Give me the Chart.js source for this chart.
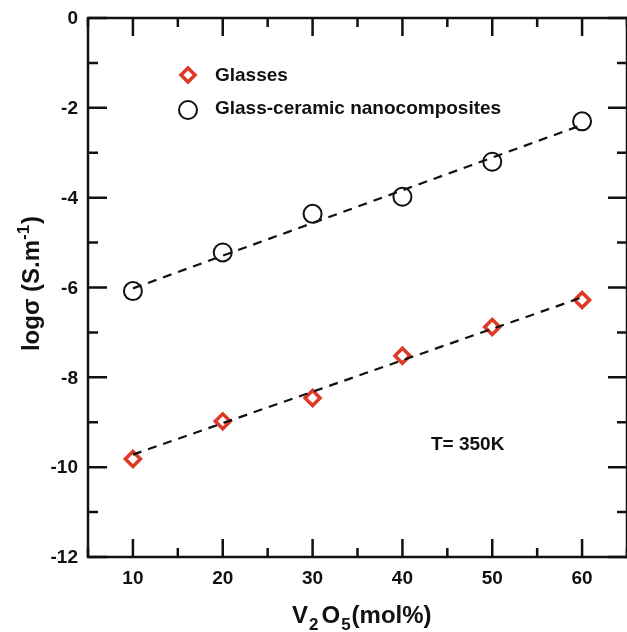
<!DOCTYPE html>
<html>
<head>
<meta charset="utf-8">
<script src="https://cdn.jsdelivr.net/npm/chart.js@4"></script>
<style>
  html, body { margin: 0; padding: 0; background: #fff; overflow: hidden; }
  canvas { display: block; }
</style>
</head>
<body>
<canvas id="grafico" width="627" height="632"></canvas>
<script>
const composicao = [10, 20, 30, 40, 50, 60];
const vidros = [-9.82, -8.98, -8.46, -7.52, -6.88, -6.28];
const nanocompositos = [-6.08, -5.22, -4.36, -3.98, -3.2, -2.3];
const ajusteX = [10, 60];
const ajusteVidros = [-9.72, -6.22];
const ajusteNano = [-6.02, -2.38];
const ticksX = [10, 20, 30, 40, 50, 60];
const ticksY = [0, -2, -4, -6, -8, -10, -12];

const vermelho = '#dc3a27';
const fonte = 'bold 19px "Liberation Sans", Arial, sans-serif';

const pontos = (xs, ys) => xs.map((x, i) => ({ x, y: ys[i] }));

// moldura, ticks para dentro, rótulos e títulos
const moldura = {
  id: 'moldura',
  afterDraw(chart) {
    const { ctx, chartArea: a, scales: { x, y } } = chart;
    ctx.save();
    ctx.strokeStyle = '#111';
    ctx.lineWidth = 2.5;
    ctx.strokeRect(a.left, a.top, a.right - a.left, a.bottom - a.top);
    ctx.beginPath();
    for (let v = 5; v <= 65; v += 5) {
      const px = x.getPixelForValue(v);
      const len = v % 10 === 0 ? 18 : 9;
      ctx.moveTo(px, a.bottom); ctx.lineTo(px, a.bottom - len);
      ctx.moveTo(px, a.top); ctx.lineTo(px, a.top + len);
    }
    for (let v = -12; v <= 0; v += 1) {
      const py = y.getPixelForValue(v);
      const len = v % 2 === 0 ? 19 : 10;
      ctx.moveTo(a.left, py); ctx.lineTo(a.left + len, py);
      ctx.moveTo(a.right, py); ctx.lineTo(a.right - len, py);
    }
    ctx.stroke();

    ctx.fillStyle = '#111';
    ctx.font = fonte;
    ctx.textBaseline = 'middle';
    ctx.textAlign = 'center';
    ticksX.forEach(v => ctx.fillText(String(v), x.getPixelForValue(v), a.bottom + 22));
    ctx.textAlign = 'right';
    ticksY.forEach(v => ctx.fillText(String(v), a.left - 10, y.getPixelForValue(v) + 1));

    // legenda
    ctx.textAlign = 'left';
    ctx.strokeStyle = vermelho;
    ctx.lineWidth = 3.5;
    ctx.beginPath();
    ctx.moveTo(188, 68); ctx.lineTo(195, 75); ctx.lineTo(188, 82); ctx.lineTo(181, 75); ctx.closePath();
    ctx.stroke();
    ctx.fillText('Glasses', 215, 76);
    ctx.strokeStyle = '#111';
    ctx.lineWidth = 2;
    ctx.beginPath();
    ctx.arc(188, 110, 9, 0, Math.PI * 2);
    ctx.stroke();
    ctx.fillText('Glass-ceramic nanocomposites', 215, 109);

    ctx.fillText('T= 350K', 431, 445);

    // título do eixo x
    ctx.textBaseline = 'alphabetic';
    const tx = 'bold 24px "Liberation Sans", Arial, sans-serif';
    const ts = 'bold 17px "Liberation Sans", Arial, sans-serif';
    let cx = 292;
    const parte = (t, f, dy) => { ctx.font = f; ctx.fillText(t, cx, 623 + dy); cx += ctx.measureText(t).width; };
    parte('V', tx, 0); cx += 1; parte('2', ts, 7); cx += 3;
    parte('O', tx, 0); cx += 1; parte('5', ts, 7); cx += 1; parte('(mol%)', tx, 0);

    // título do eixo y
    ctx.translate(39, 284);
    ctx.rotate(-Math.PI / 2);
    ctx.font = tx;
    const p1 = 'log\u03c3 (S.m', p2 = '-1', p3 = ')';
    const w1 = ctx.measureText(p1).width, w3 = ctx.measureText(p3).width;
    ctx.font = ts;
    const w2 = ctx.measureText(p2).width;
    let sx = -(w1 + w2 + w3) / 2;
    ctx.font = tx; ctx.fillText(p1, sx, 0); sx += w1;
    ctx.font = ts; ctx.fillText(p2, sx, -10); sx += w2 + 1;
    ctx.font = tx; ctx.fillText(p3, sx, 0);
    ctx.restore();
  }
};

new Chart(document.getElementById('grafico'), {
  type: 'scatter',
  data: {
    datasets: [
      {
        label: 'ajuste vidros',
        data: pontos(ajusteX, ajusteVidros),
        showLine: true, borderColor: '#111', borderWidth: 2.2, borderDash: [9, 7],
        pointRadius: 0
      },
      {
        label: 'ajuste nano',
        data: pontos(ajusteX, ajusteNano),
        showLine: true, borderColor: '#111', borderWidth: 2.2, borderDash: [9, 7],
        pointRadius: 0
      },
      {
        label: 'Glasses',
        data: pontos(composicao, vidros),
        pointStyle: 'rectRot', pointRadius: 7.5, borderWidth: 3.5,
        borderColor: vermelho, backgroundColor: 'rgba(0,0,0,0)'
      },
      {
        label: 'Glass-ceramic nanocomposites',
        data: pontos(composicao, nanocompositos),
        pointStyle: 'circle', pointRadius: 9, borderWidth: 2,
        borderColor: '#111', backgroundColor: 'rgba(0,0,0,0)'
      }
    ]
  },
  options: {
    responsive: false,
    devicePixelRatio: 1,
    animation: false,
    layout: { autoPadding: false, padding: { top: 18, right: 0, left: 0, bottom: 0 } },
    plugins: { legend: { display: false }, tooltip: { enabled: false } },
    scales: {
      x: {
        type: 'linear', min: 5, max: 65,
        afterFit: s => { s.height = 75; },
        grid: { display: false, drawTicks: false },
        border: { display: false },
        ticks: { display: false }
      },
      y: {
        type: 'linear', min: -12, max: 0,
        afterFit: s => { s.width = 88; },
        grid: { display: false, drawTicks: false },
        border: { display: false },
        ticks: { display: false }
      }
    }
  },
  plugins: [moldura]
});
</script>
</body>
</html>
